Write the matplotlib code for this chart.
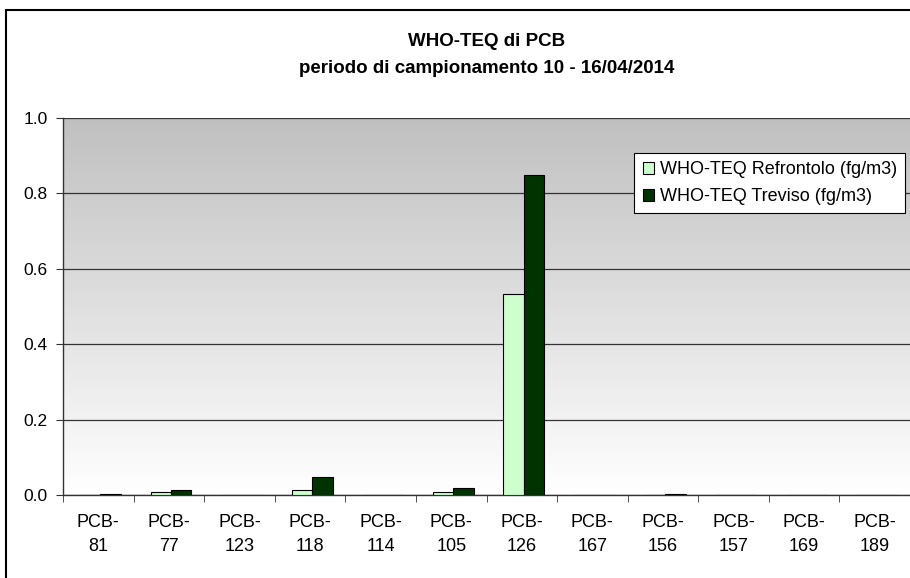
import numpy as np
import matplotlib
matplotlib.use("Agg")
import matplotlib.pyplot as plt
from matplotlib.patches import Rectangle

plt.rcParams['font.family'] = ['Liberation Sans', 'DejaVu Sans']

categories = ['PCB-\n81', 'PCB-\n77', 'PCB-\n123', 'PCB-\n118', 'PCB-\n114', 'PCB-\n105',
              'PCB-\n126', 'PCB-\n167', 'PCB-\n156', 'PCB-\n157', 'PCB-\n169', 'PCB-\n189']
refrontolo = [0.0, 0.007, 0.0, 0.013, 0.0, 0.007, 0.533, 0.0, 0.0, 0.0, 0.0, 0.0]
treviso = [0.003, 0.014, 0.0, 0.049, 0.0, 0.018, 0.848, 0.0, 0.003, 0.0, 0.0, 0.0]

fig = plt.figure(figsize=(9.1, 5.78), dpi=100)
ax = fig.add_axes([63/910, 83/578, 847/910, 377/578])

# grey-to-white gradient background
grad = np.linspace(0, 1, 256).reshape(-1, 1)
cmap = matplotlib.colors.LinearSegmentedColormap.from_list('bg', ['#ffffff', '#c0c0c0'])
ax.imshow(grad, aspect='auto', cmap=cmap, origin='lower',
          extent=[-0.5, len(categories) - 0.5, 0, 1], zorder=0)

x = np.arange(len(categories))
w = 0.29
ax.bar(x - w/2 + 0.03, refrontolo, width=w, color='#ccffcc', edgecolor='black', linewidth=0.8,
       label='WHO-TEQ Refrontolo (fg/m3)', zorder=3)
ax.bar(x + w/2 + 0.03, treviso, width=w, color='#003300', edgecolor='black', linewidth=0.8,
       label='WHO-TEQ Treviso (fg/m3)', zorder=3)

ax.set_xlim(-0.5, len(categories) - 0.5)
ax.set_ylim(0, 1.0)
ax.set_yticks([0, 0.2, 0.4, 0.6, 0.8, 1.0])
ax.set_yticklabels(['0.0', '0.2', '0.4', '0.6', '0.8', '1.0'], fontsize=12.5)
ax.yaxis.grid(True, color='#333333', linewidth=0.9, zorder=1)
ax.set_axisbelow(False)

ax.set_xticks(x)
ax.set_xticklabels(categories, fontsize=13, linespacing=1.5)
ax.set_xticks(np.arange(-0.5, len(categories)), minor=True)
ax.tick_params(axis='x', which='major', length=0, pad=14)
ax.tick_params(axis='x', which='minor', length=5, color='#333333')
ax.tick_params(axis='y', length=5, color='#333333', pad=6)

for s in ['top', 'right']:
    ax.spines[s].set_visible(False)
for s in ['left', 'bottom']:
    ax.spines[s].set_color('#333333')
    ax.spines[s].set_linewidth(1.0)

leg = ax.legend(loc='upper right', bbox_to_anchor=(842/847, 342/377), fontsize=13,
                frameon=True, fancybox=False, edgecolor='black', framealpha=1,
                handlelength=0.65, handleheight=0.65, handletextpad=0.3,
                borderpad=0.45, labelspacing=0.55, borderaxespad=0)
leg.get_frame().set_linewidth(0.8)

fig.text(487/910, 1 - 41/578, 'WHO-TEQ di PCB', ha='center', va='center',
         fontsize=13.5, fontweight='bold')
fig.text(487/910, 1 - 69/578, 'periodo di campionamento 10 - 16/04/2014', ha='center',
         va='center', fontsize=13.5, fontweight='bold')

# outer chart frame
fig.patches.append(Rectangle((6/910, -0.1), 1.2, 1.1 - 10/578, transform=fig.transFigure,
                             fill=False, edgecolor='black', linewidth=1.5))

fig.savefig('out.png', dpi=100)
